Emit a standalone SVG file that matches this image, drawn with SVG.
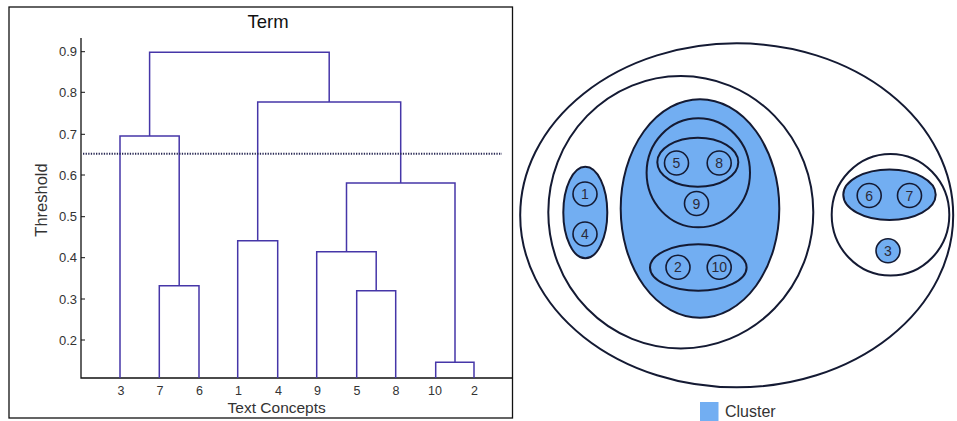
<svg xmlns="http://www.w3.org/2000/svg" width="957" height="421" viewBox="0 0 957 421">
<style>
.lbl{font-family:"Liberation Sans",Arial,sans-serif;fill:#333;}
.tick{font-size:13px;text-anchor:end;}
.leaf{font-size:12.5px;text-anchor:middle;}
.den{fill:none;stroke:#4636a8;stroke-width:1.5;}
.ax{stroke:#111;stroke-width:1.3;fill:none;}
.cl{fill:#72aef2;stroke:#141a33;stroke-width:2;}
.ring{fill:none;stroke:#141a33;stroke-width:2;}
.wh{fill:#fff;stroke:#141a33;stroke-width:2;}
.nd{fill:none;stroke:#141a33;stroke-width:1.6;}
.num{font-family:"Liberation Sans",Arial,sans-serif;font-size:14px;fill:#2a2a3a;text-anchor:middle;}
</style>
<rect width="957" height="421" fill="#fff"/>
<g id="dendrogram">
<rect x="9" y="7" width="503.5" height="411" fill="none" stroke="#111" stroke-width="1.3"/>
<text class="lbl" x="268" y="28" font-size="18.5" text-anchor="middle" style="fill:#111">Term</text>
<path class="ax" d="M81,38V378H513"/>
<g stroke="#111" stroke-width="1">
<path d="M81,51.7h4M81,92.3h4M81,134.3h4M81,175h4M81,216.7h4M81,257.7h4M81,299h4M81,340h4"/>
</g>
<g class="lbl tick">
<text x="77" y="56.3">0.9</text>
<text x="77" y="96.9">0.8</text>
<text x="77" y="138.9">0.7</text>
<text x="77" y="179.6">0.6</text>
<text x="77" y="221.3">0.5</text>
<text x="77" y="262.3">0.4</text>
<text x="77" y="303.6">0.3</text>
<text x="77" y="344.6">0.2</text>
</g>
<text class="lbl" x="0" y="0" font-size="16.5" text-anchor="middle" transform="translate(46.5,200) rotate(-90)">Threshold</text>
<g class="lbl leaf">
<text x="121" y="394.5">3</text>
<text x="160" y="394.5">7</text>
<text x="199.5" y="394.5">6</text>
<text x="238.5" y="394.5">1</text>
<text x="278.5" y="394.5">4</text>
<text x="317.5" y="394.5">9</text>
<text x="357" y="394.5">5</text>
<text x="396" y="394.5">8</text>
<text x="435" y="394.5">10</text>
<text x="474.5" y="394.5">2</text>
</g>
<text class="lbl" x="276.7" y="412.5" font-size="15.5" text-anchor="middle">Text Concepts</text>
<g id="connectors" class="den">
<path d="M159.3,378V285.7H199V378"/>
<path d="M120,378V136H179.2V285.7"/>
<path d="M237.7,378V240.7H277.7V378"/>
<path d="M356.7,378V290.7H395.7V378"/>
<path d="M316.7,378V251.7H376.2V290.7"/>
<path d="M435.7,378V362.3H474V378"/>
<path d="M346.5,251.7V183H455V362.3"/>
<path d="M257.7,240.7V102H400.7V183"/>
<path d="M149.6,136V52.3H329.2V102"/>
</g>
<line x1="83" y1="153.7" x2="502" y2="153.7" stroke="#2a2a55" stroke-width="2" stroke-dasharray="1.3 1.3"/>
</g>
<g id="venn">
<ellipse id="outer" class="ring" cx="736.7" cy="215.3" rx="216.5" ry="172"/>
<ellipse id="inner" class="ring" cx="680.8" cy="212.2" rx="132.5" ry="136.2"/>
<g id="c14">
<ellipse class="cl" cx="585.3" cy="212.5" rx="22" ry="45.8"/>
<circle class="nd" cx="585" cy="194" r="12"/>
<text class="num" x="585" y="199">1</text>
<circle class="nd" cx="585" cy="234" r="12"/>
<text class="num" x="585" y="239">4</text>
</g>
<g id="big">
<ellipse class="cl" cx="700" cy="208.5" rx="79.3" ry="109.2"/>
<ellipse class="ring" cx="698.3" cy="172.8" rx="51.7" ry="54.5"/>
<ellipse class="ring" cx="697.8" cy="162.2" rx="40.5" ry="24.5"/>
<circle class="nd" cx="676.5" cy="163" r="12"/>
<text class="num" x="676.5" y="168">5</text>
<circle class="nd" cx="719.2" cy="163" r="12"/>
<text class="num" x="719.2" y="168">8</text>
<circle class="nd" cx="696.5" cy="203.5" r="12"/>
<text class="num" x="696.5" y="208.5">9</text>
<ellipse class="ring" cx="698.3" cy="267.5" rx="48.3" ry="23.2"/>
<circle class="nd" cx="678" cy="267.3" r="12"/>
<text class="num" x="678" y="272.3">2</text>
<circle class="nd" cx="719.2" cy="267.3" r="12"/>
<text class="num" x="719.2" y="272.3">10</text>
</g>
<g id="c367">
<ellipse class="wh" cx="890.5" cy="214.8" rx="58.8" ry="60.8"/>
<ellipse class="cl" cx="889.5" cy="194.7" rx="46.2" ry="25.3"/>
<circle class="nd" cx="869.2" cy="195.5" r="12"/>
<text class="num" x="869.2" y="200.5">6</text>
<circle class="nd" cx="909.5" cy="195.5" r="12"/>
<text class="num" x="909.5" y="200.5">7</text>
<circle class="cl" cx="888" cy="250.8" r="12" style="stroke-width:1.6"/>
<text class="num" x="888" y="255.8">3</text>
</g>
<g id="legend">
<rect x="700" y="402" width="18.5" height="19" fill="#72aef2"/>
<text class="lbl" x="725" y="417" font-size="16">Cluster</text>
</g>
</g>
</svg>
